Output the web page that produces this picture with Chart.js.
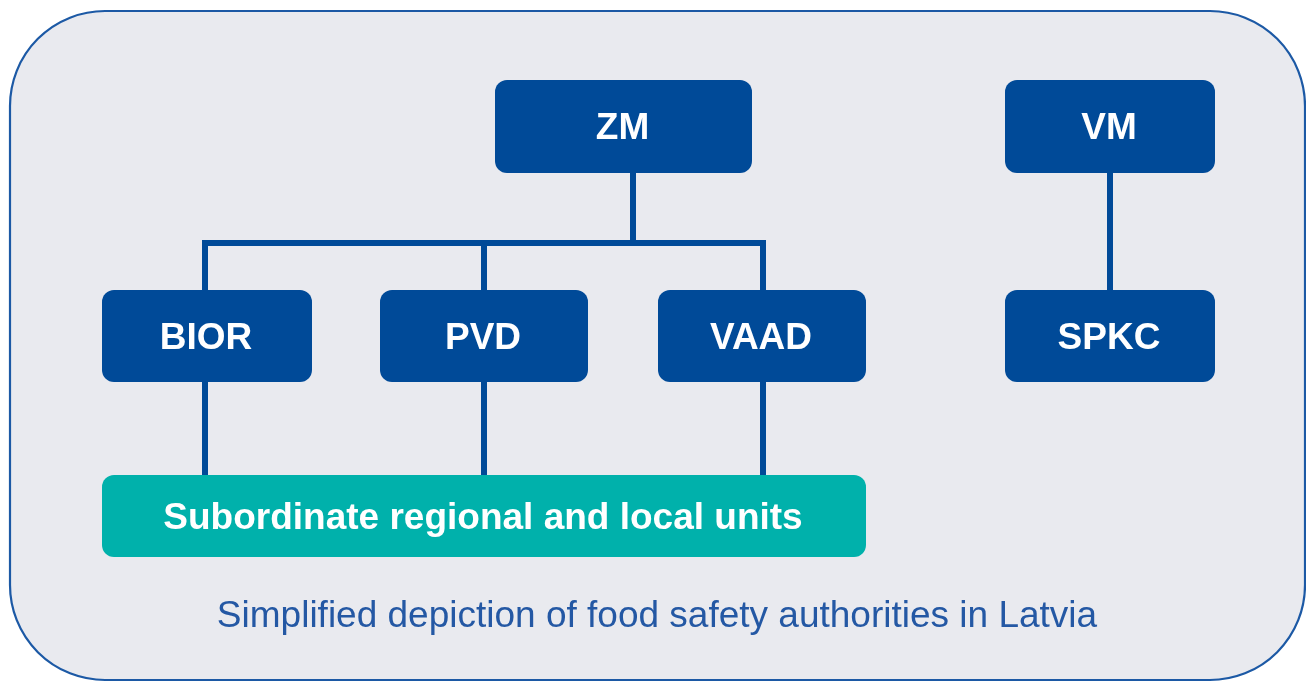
<!DOCTYPE html>
<html>
<head>
<meta charset="utf-8">
<script src="https://cdn.jsdelivr.net/npm/chart.js@4/dist/chart.umd.min.js"></script>
<style>
  html, body { margin: 0; padding: 0; background: #ffffff; }
  canvas { display: block; }
</style>
</head>
<body>
<canvas id="c" width="1306" height="682"></canvas>
<script>
// ---- Data (diagram units) ----
const nodeLabels = ['ZM', 'VM', 'BIOR', 'PVD', 'VAAD', 'SPKC', 'Subordinate regional and local units'];
const nodeKinds  = ['ministry', 'ministry', 'agency', 'agency', 'agency', 'agency', 'units'];
const nodeLeft   = [495, 1005, 102, 380, 658, 1005, 102];
const nodeRight  = [752, 1215, 312, 588, 866, 1215, 866];
const nodeTop    = [80, 80, 290, 290, 290, 290, 475];
const nodeBottom = [173, 173, 382, 382, 382, 382, 557];
// edges: parent index -> child index, with the x of the drop line
const edgeFrom   = [0, 0, 0, 1, 2, 3, 4];
const edgeTo     = [2, 3, 4, 5, 6, 6, 6];
const edgeDropX  = [205, 484, 763, 1110, 205, 484, 763];
const trunkX     = [633, 1110, 205, 484, 763, 1110, 484];
const busY       = 243;
const caption    = 'Simplified depiction of food safety authorities in Latvia';

// ---- Styles ----
const NAVY = '#004a98';
const TEAL = '#00b1ab';
const LINE = '#004a98';
const PANEL = '#e9eaef';
const PANEL_BORDER = '#1c59a5';
const CAPTION = '#2458a4';

// Build connector polylines from the node geometry
const datasets = edgeFrom.map((p, i) => {
  const c = edgeTo[i];
  const dx = edgeDropX[i];
  let pts;
  if (nodeKinds[p] === 'ministry' && nodeKinds[c] === 'agency' && p === 0) {
    const tx = trunkX[p];
    pts = [
      { x: tx, y: nodeBottom[p] },
      { x: tx, y: busY },
      { x: dx, y: busY },
      { x: dx, y: nodeTop[c] }
    ];
  } else {
    pts = [
      { x: dx, y: nodeBottom[p] },
      { x: dx, y: nodeTop[c] }
    ];
  }
  return {
    type: 'line',
    data: pts,
    borderColor: LINE,
    borderWidth: 6,
    borderCapStyle: 'square',
    borderJoinStyle: 'miter',
    pointRadius: 0,
    fill: false,
    tension: 0
  };
});

function roundRect(ctx, x, y, w, h, r) {
  ctx.beginPath();
  ctx.moveTo(x + r, y);
  ctx.lineTo(x + w - r, y);
  ctx.arcTo(x + w, y, x + w, y + r, r);
  ctx.lineTo(x + w, y + h - r);
  ctx.arcTo(x + w, y + h, x + w - r, y + h, r);
  ctx.lineTo(x + r, y + h);
  ctx.arcTo(x, y + h, x, y + h - r, r);
  ctx.lineTo(x, y + r);
  ctx.arcTo(x, y, x + r, y, r);
  ctx.closePath();
}

const diagramPlugin = {
  id: 'diagram',
  beforeDatasetsDraw(chart) {
    const { ctx, scales: { x, y } } = chart;
    const l = x.getPixelForValue(10), r = x.getPixelForValue(1305);
    const t = y.getPixelForValue(11), b = y.getPixelForValue(680);
    ctx.save();
    roundRect(ctx, l, t, r - l, b - t, 95);
    ctx.fillStyle = PANEL;
    ctx.fill();
    ctx.lineWidth = 2.2;
    ctx.strokeStyle = PANEL_BORDER;
    ctx.stroke();
    ctx.restore();
  },
  afterDatasetsDraw(chart) {
    const { ctx, scales: { x, y } } = chart;
    ctx.save();
    nodeLabels.forEach((label, i) => {
      const l = x.getPixelForValue(nodeLeft[i]);
      const r = x.getPixelForValue(nodeRight[i]);
      const t = y.getPixelForValue(nodeTop[i]);
      const b = y.getPixelForValue(nodeBottom[i]);
      roundRect(ctx, l, t, r - l, b - t, 12);
      ctx.fillStyle = nodeKinds[i] === 'units' ? TEAL : NAVY;
      ctx.fill();
      ctx.fillStyle = '#ffffff';
      ctx.font = 'bold 37px "Liberation Sans", Arial, sans-serif';
      ctx.textAlign = 'center';
      ctx.textBaseline = 'alphabetic';
      ctx.fillText(label, (l + r) / 2 - 1, (t + b) / 2 + 12.5);
    });
    ctx.fillStyle = CAPTION;
    ctx.font = '37px "Liberation Sans", Arial, sans-serif';
    ctx.textAlign = 'center';
    ctx.fillText(caption, x.getPixelForValue(657), y.getPixelForValue(627));
    ctx.restore();
  }
};

new Chart(document.getElementById('c'), {
  type: 'scatter',
  data: { datasets },
  options: {
    responsive: false,
    animation: false,
    layout: { padding: 0 },
    events: [],
    plugins: { legend: { display: false }, tooltip: { enabled: false }, title: { display: false } },
    scales: {
      x: { type: 'linear', min: 0, max: 1306, display: false },
      y: { type: 'linear', min: 0, max: 682, reverse: true, display: false }
    },
    elements: { line: { showLine: true } },
    datasets: { scatter: { showLine: true } }
  },
  plugins: [diagramPlugin]
});
</script>
</body>
</html>
